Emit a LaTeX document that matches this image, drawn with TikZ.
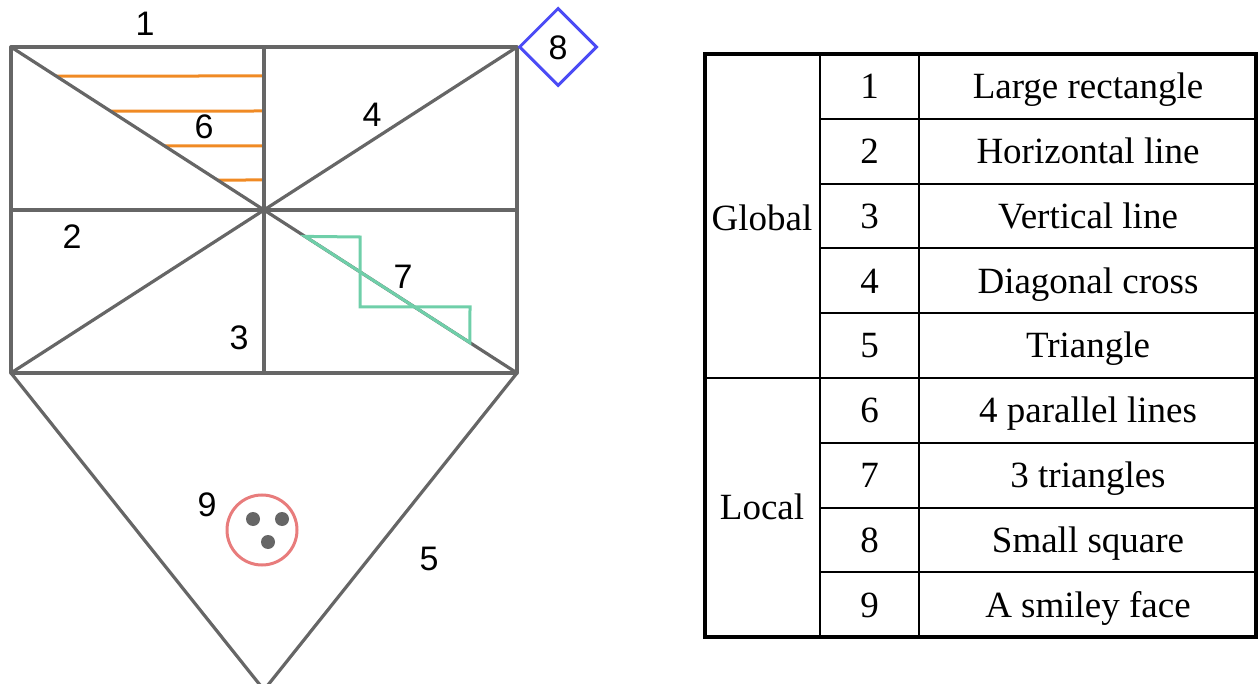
\documentclass[tikz,border=0pt]{standalone}
\usepackage{fontspec}
\setmainfont{Liberation Serif}
\newfontfamily\labelfont{Liberation Sans}
\usetikzlibrary{shapes.geometric,calc}
\definecolor{edgegray}{HTML}{666666}
\definecolor{hatchorange}{HTML}{F08A24}
\definecolor{stepgreen}{HTML}{6FCFA9}
\definecolor{diamondblue}{HTML}{4B4BF5}
\definecolor{facered}{HTML}{E87C7C}
\begin{document}
\begin{tikzpicture}[x=1pt,y=-1pt,
  frame/.style={draw=edgegray,line width=3.2pt,line join=round},
  hatch/.style={draw=hatchorange,line width=3pt},
  steps/.style={draw=stepgreen,line width=3pt,line join=miter},
  lbl/.style={font=\labelfont\fontsize{34}{34}\selectfont,inner sep=0pt,text height=24.5pt,text depth=0pt},
  cell/.style={font=\fontsize{37}{40}\selectfont,inner sep=0pt,text height=24.5pt,text depth=0pt},
  outer/.style={draw=black,line width=4pt},
  inner/.style={draw=black,line width=2pt}]
\useasboundingbox (0,0) rectangle (1258,684);
% corner coordinates
\coordinate (TL) at (11,47);
\coordinate (TR) at (517,47);
\coordinate (BL) at (11,373);
\coordinate (BR) at (517,373);
\coordinate (C) at (264,210);
\coordinate (T) at (264,47);
\coordinate (B) at (264,373);
\coordinate (L) at (11,210);
\coordinate (R) at (517,210);
\coordinate (apex) at (264,690);
% 6: parallel lines
\foreach \t/\yy in {0.178/76,0.393/111,0.607/146,0.816/180}{
  \draw[hatch] ($(TL)!\t!(C)$) -- (263,\yy);
}
% global structure
\draw[frame] (TL) rectangle (BR);
\draw[frame] (T) -- (B);
\draw[frame] (L) -- (R);
\draw[frame] (TL) -- (BR);
\draw[frame] (TR) -- (BL);
\draw[frame] (BL) -- (apex) -- (BR);
% 7: triangles
\coordinate (g1) at ($(C)!0.162!(BR)$);
\coordinate (g2) at ($(C)!0.814!(BR)$);
\draw[steps] (g1) -- (360,237) -- (360,307) -- (470,307) -- (g2) -- cycle;
% 8: diamond
\node[diamond,draw=diamondblue,line width=3pt,minimum width=78pt,minimum height=78pt,inner sep=0pt] (sq) at (558,47) {};
\node[lbl] (l8) at (sq.center) {8};
% 9: face
\node[circle,draw=facered,line width=3pt,minimum size=70pt,inner sep=0pt] (face) at (262,530) {};
\fill[edgegray] (253,519) circle (7);
\fill[edgegray] (282,519) circle (7);
\fill[edgegray] (268,542) circle (7);
% labels
\node[lbl] (l1) at (145,23) {1};
\node[lbl] (l2) at (72,236) {2};
\node[lbl] (l3) at (239,337) {3};
\node[lbl] (l4) at (372,114) {4};
\node[lbl] (l5) at (429,558) {5};
\node[lbl] (l6) at (204,126) {6};
\node[lbl] (l7) at (403,276) {7};
\node[lbl] (l9) at (207,504) {9};
% table
\def\xa{705}\def\xb{820}\def\xc{919}\def\xd{1256}
\foreach \k in {1,2,3,4,6,7,8}{
  \draw[inner] (\xb,54+64.8*\k) -- (\xd,54+64.8*\k);
}
\draw[inner] (\xa,54+64.8*5) -- (\xd,54+64.8*5);
\draw[inner] (\xb,54) -- (\xb,637);
\draw[inner] (\xc,54) -- (\xc,637);
\draw[outer] (\xa,54) rectangle (\xd,637);
\node[cell] (gl) at (762,218) {Global};
\node[cell] (lo) at (762,507) {Local};
\foreach \k/\txt in {1/Large rectangle,2/Horizontal line,3/Vertical line,4/Diagonal cross,5/Triangle,6/4 parallel lines,7/3 triangles,8/Small square,9/A smiley face}{
  \node[cell] (n\k) at (869.5,54+64.8*\k-32.4) {\k};
  \node[cell] (d\k) at (1088,54+64.8*\k-32.4) {\txt};
}
\end{tikzpicture}
\end{document}
